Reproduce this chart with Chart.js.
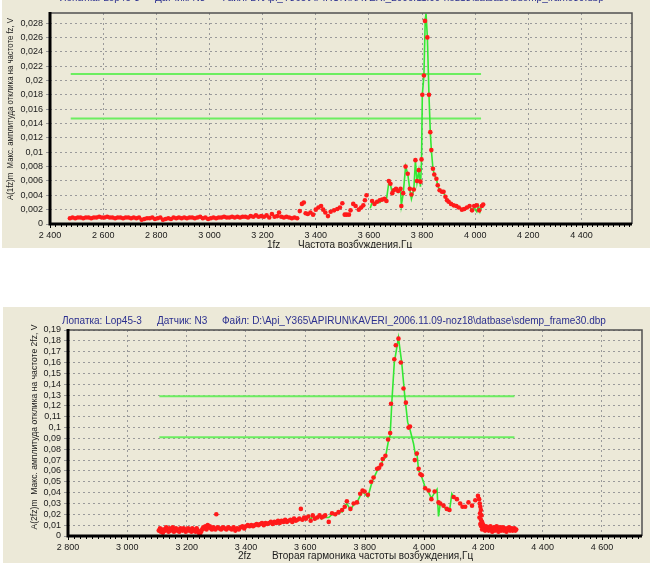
<!DOCTYPE html>
<html>
<head>
<meta charset="utf-8">
<script src="https://cdn.jsdelivr.net/npm/chart.js@4.4.0/dist/chart.umd.min.js"></script>
<style>
  body { margin: 0; background: #fff; width: 650px; height: 563px; position: relative; overflow: hidden; }
  .panel { position: absolute; background: #ECE9D8; }
  #p1 { left: 2px; top: 0; width: 648px; height: 248px; }
  #p2 { left: 3px; top: 307px; width: 647px; height: 256px; }
  canvas { position: absolute; left: 0; top: 0; }
</style>
</head>
<body>
<div class="panel" id="p1"><canvas id="c1" width="648" height="248"></canvas></div>
<div class="panel" id="p2"><canvas id="c2" width="647" height="256"></canvas></div>
<script>
/* ---- 1fz : measured points [Hz, V] ---- */
var red1 = [
  [2475,.0008],[2485,.0009],[2495,.0008],[2505,.0009],[2515,.0009],[2525,.0008],[2535,.0009],[2545,.0009],[2555,.0008],[2565,.0009],
  [2575,.0009],[2585,.0010],[2595,.0009],[2605,.0009],[2615,.0010],[2625,.0009],[2635,.0009],[2645,.0008],[2655,.0009],[2665,.0009],
  [2675,.0008],[2685,.0009],[2695,.0009],[2705,.0008],[2715,.0009],[2725,.0008],[2735,.0009],[2745,.0006],[2755,.0007],[2765,.0008],
  [2775,.0008],[2785,.0009],[2795,.0007],[2805,.0008],[2815,.0009],[2825,.0006],[2835,.0007],[2845,.0008],[2855,.0007],[2865,.0009],
  [2875,.0008],[2885,.0009],[2895,.0008],[2905,.0009],[2915,.0008],[2925,.0009],[2935,.0009],[2945,.0008],[2955,.0009],[2965,.0010],
  [2975,.0008],[2985,.0009],[2995,.0007],[3005,.0008],[3015,.0009],[3025,.0008],[3035,.0009],[3045,.0009],[3055,.0010],[3065,.0009],
  [3075,.0009],[3085,.0010],[3095,.0009],[3105,.0010],[3115,.0009],[3125,.0010],[3135,.0010],[3145,.0009],[3155,.0011],[3165,.0010],
  [3175,.0012],[3185,.0010],[3195,.0011],[3205,.0010],[3215,.0012],[3225,.0009],[3235,.0014],[3245,.0010],[3255,.0011],[3262,.0016],
  [3270,.0010],[3280,.0009],[3290,.0010],[3300,.0009],[3310,.0008],[3320,.0009],[3330,.0008],
  [3340,.0018],[3348,.0028],[3355,.0030],[3362,.0015],[3370,.0014],[3380,.0016],[3390,.0013],[3400,.0020],[3410,.0023],[3420,.0025],
  [3428,.0020],[3436,.0016],[3446,.0011],[3456,.0017],[3469,.0019],[3481,.0021],[3491,.0023],[3500,.0029],[3509,.0013],[3516,.0013],
  [3525,.0013],[3531,.0019],[3541,.0028],[3550,.0025],[3562,.0020],[3571,.0023],[3579,.0026],[3585,.0033],[3591,.0040],[3612,.0032],
  [3621,.0028],[3631,.0031],[3641,.0033],[3650,.0034],[3659,.0035],[3666,.0032],[3675,.0060],[3681,.0056],[3688,.0043],[3694,.0047],
  [3702,.0049],[3710,.0046],[3719,.0049],[3722,.0025],[3729,.0043],[3738,.0080],[3746,.0070],[3754,.0049],[3760,.0041],[3769,.0048],
  [3775,.0089],[3781,.0060],[3788,.0075],[3794,.0059],[3798,.0090],[3801,.0180],[3807,.0207],[3811,.0283],[3820,.0260],[3826,.0180],
  [3831,.0128],[3835,.0103],[3841,.0077],[3846,.0069],[3854,.0063],[3859,.0054],[3866,.0047],[3875,.0045],[3881,.0045],[3888,.0038],
  [3894,.0033],[3900,.0031],[3909,.0028],[3919,.0026],[3929,.0025],[3938,.0023],[3950,.0020],[3959,.0021],[3969,.0023],[3979,.0025],
  [3988,.0019],[3996,.0025],[4006,.0026],[4015,.0019],[4025,.0025],[4030,.0027]
];
var green1 = [
  [3605,.0022],[3612,.0030],[3621,.0027],[3631,.0031],[3641,.0030],[3650,.0034],[3659,.0033],[3666,.0034],[3675,.0058],[3681,.0055],
  [3688,.0043],[3694,.0047],[3702,.0049],[3710,.0044],[3719,.0048],[3722,.0026],[3729,.0042],[3738,.0080],[3746,.0070],[3754,.0048],
  [3760,.0035],[3769,.0048],[3775,.0088],[3781,.0058],[3788,.0074],[3794,.0052],[3798,.0088],[3801,.0180],[3807,.0207],[3812,.0285],
  [3815,.0293],[3820,.0260],[3826,.0180],[3831,.0128],[3835,.0103],[3841,.0077],[3846,.0069],[3854,.0063],[3859,.0054],[3866,.0047],
  [3875,.0045],[3881,.0044],[3888,.0038],[3894,.0033],[3900,.0030],[3909,.0028],[3919,.0025],[3929,.0024],[3938,.0023],[3950,.0020],
  [3959,.0021],[3969,.0022],[3979,.0024],[3988,.0019],[3996,.0022],[4006,.0017],[4012,.0025],[4018,.0017],[4025,.0025]
];
var levels1 = [0.0209, 0.0147];
var levelSpan1 = [2478, 4022];
var xTicks1 = [2400, 2600, 2800, 3000, 3200, 3400, 3600, 3800, 4000, 4200, 4400];

/* ---- 2fz : measured points [Hz, V] ---- */
var red2 = [
  [3106,.005],[3110,.007],[3113,.004],[3117,.006],[3120,.003],[3124,.006],[3128,.005],[3131,.008],[3135,.006],[3139,.004],
  [3142,.007],[3146,.005],[3150,.006],[3153,.008],[3157,.004],[3161,.006],[3164,.007],[3168,.005],[3172,.006],[3175,.004],
  [3179,.007],[3183,.006],[3186,.005],[3190,.007],[3194,.006],[3197,.004],[3201,.006],[3205,.007],[3208,.005],[3212,.006],
  [3216,.004],[3219,.007],[3223,.005],[3227,.006],[3230,.004],[3234,.007],[3238,.005],[3241,.003],[3245,.001],[3249,.004],
  [3252,.006],[3256,.008],[3260,.007],[3263,.009],[3267,.006],[3271,.010],[3274,.008],[3278,.009],[3282,.007],[3285,.006],
  [3289,.008],[3293,.007],[3297,.006],[3300,.020],[3304,.008],[3310,.007],[3316,.006],[3322,.008],[3328,.007],[3334,.006],
  [3340,.008],[3346,.007],[3352,.006],[3358,.008],[3364,.005],[3370,.007],[3376,.006],[3382,.008],[3388,.009],[3394,.007],
  [3400,.009],[3406,.010],[3412,.009],[3418,.010],[3424,.009],[3430,.010],[3436,.011],[3442,.010],[3448,.011],[3454,.012],
  [3460,.010],[3466,.012],[3472,.011],[3478,.012],[3484,.013],[3490,.011],[3496,.013],[3502,.012],[3508,.014],[3514,.012],
  [3520,.014],[3526,.013],[3532,.015],[3538,.013],[3544,.014],[3550,.015],[3556,.013],[3562,.016],[3568,.014],[3574,.015],
  [3580,.016],[3585,.025],[3590,.015],[3596,.017],[3602,.016],[3610,.018],[3618,.014],[3625,.019],[3632,.016],[3640,.017],
  [3648,.019],[3655,.017],[3662,.018],[3667,.019],[3679,.013],[3690,.021],[3701,.020],[3712,.022],[3724,.024],[3733,.027],
  [3740,.032],[3752,.025],[3763,.030],[3774,.031],[3785,.039],[3793,.042],[3800,.041],[3811,.038],[3822,.050],[3830,.054],
  [3842,.062],[3849,.063],[3856,.066],[3861,.071],[3870,.074],[3879,.089],[3886,.095],[3889,.122],[3900,.163],[3905,.176],
  [3914,.182],[3922,.160],[3931,.136],[3939,.123],[3948,.100],[3953,.101],[3969,.070],[3976,.076],[3982,.062],[3988,.057],
  [3993,.056],[4004,.044],[4016,.042],[4025,.034],[4036,.041],[4049,.031],[4055,.030],[4066,.028],[4077,.025],[4086,.024],
  [4100,.036],[4111,.034],[4122,.030],[4130,.027],[4139,.027],[4150,.031],[4162,.028],[4173,.033],[4182,.037],[4186,.034],
  [4188,.030],[4190,.027],[4192,.024],[4189,.021],[4194,.019],[4187,.017],[4192,.015],[4195,.013],[4190,.011],[4197,.012],
  [4193,.009],[4198,.008],[4196,.006],[4200,.010],[4203,.007],[4206,.005],[4209,.009],[4212,.006],[4215,.008],[4218,.005],
  [4221,.007],[4224,.009],[4227,.006],[4230,.004],[4233,.007],[4236,.008],[4239,.005],[4242,.006],[4245,.009],[4248,.006],
  [4251,.004],[4254,.007],[4257,.008],[4260,.005],[4263,.006],[4266,.008],[4269,.005],[4272,.007],[4275,.006],[4278,.004],
  [4281,.007],[4284,.006],[4287,.008],[4290,.005],[4293,.006],[4296,.007],[4299,.005],[4302,.006],[4305,.007],[4308,.005],[4311,.006]
];
var green2 = [
  [3600,.016],[3610,.019],[3618,.015],[3625,.019],[3632,.015],[3640,.018],[3648,.019],[3655,.016],[3662,.019],[3670,.017],
  [3679,.017],[3690,.020],[3701,.019],[3712,.023],[3724,.022],[3733,.028],[3740,.030],[3752,.024],[3763,.029],[3774,.031],
  [3785,.037],[3793,.041],[3800,.039],[3811,.036],[3822,.047],[3830,.053],[3842,.060],[3849,.064],[3856,.065],[3861,.070],
  [3870,.072],[3879,.086],[3886,.093],[3892,.125],[3900,.160],[3914,.183],[3925,.160],[3935,.130],[3945,.105],[3953,.098],
  [3965,.085],[3971,.075],[3976,.077],[3982,.060],[3988,.058],[3993,.054],[4004,.045],[4016,.040],[4025,.035],[4036,.040],
  [4044,.043],[4049,.018],[4055,.030],[4066,.027],[4077,.024],[4086,.023],[4094,.039],[4100,.036]
];
var levels2 = [0.129, 0.091];
var levelSpan2 = [3108, 4305];
var xTicks2 = [2800, 3000, 3200, 3400, 3600, 3800, 4000, 4200, 4400, 4600];

/* ---- texts ---- */
var headParts = ['Лопатка: Lop45-3', 'Датчик: N3', 'Файл: D:\\Api_Y365\\APIRUN\\KAVERI_2006.11.09-noz18\\datbase\\sdemp_frame30.dbp'];
var yTitle1 = 'A(1fz)m  Макс. амплитуда отклика на частоте fz, V';
var yTitle2 = 'A(2fz)m  Макс. амплитуда отклика на частоте 2fz, V';
var xTitle1 = ['1fz', 'Частота возбуждения,Гц'];
var xTitle2 = ['2fz', 'Вторая гармоника частоты возбуждения,Гц'];

Chart.defaults.font.family = "'Liberation Sans', Arial, sans-serif";
Chart.defaults.color = '#1a1a1a';

function pts(arr) { return arr.map(function(p) { return {x: p[0], y: p[1]}; }); }

function fmtX(v) { return String(v).replace(/\B(?=(\d{3})+(?!\d))/g, ' '); }
function fmtY(v) { return String(+v.toFixed(4)).replace('.', ','); }

function drawText(ctx, t) {
  ctx.save();
  ctx.font = t.font;
  ctx.fillStyle = t.color || '#1a1a1a';
  ctx.textBaseline = 'middle';
  ctx.translate(t.x, t.y);
  if (t.rot) { ctx.rotate(-Math.PI / 2); ctx.textAlign = 'center'; } else { ctx.textAlign = 'left'; }
  if (t.w) ctx.fillText(t.text, 0, 0, t.w); else ctx.fillText(t.text, 0, 0);
  ctx.restore();
}

var decor = {
  id: 'decor',
  afterDraw: function(chart, args, o) {
    var ctx = chart.ctx, a = chart.chartArea, x = chart.scales.x;
    ctx.save();
    // frame
    ctx.strokeStyle = '#505050';
    ctx.lineWidth = 1.5;
    ctx.beginPath();
    ctx.moveTo(a.left, a.top); ctx.lineTo(a.right, a.top); ctx.lineTo(a.right, a.bottom);
    ctx.stroke();
    // axes
    ctx.strokeStyle = '#000';
    ctx.lineWidth = 3;
    ctx.beginPath();
    ctx.moveTo(a.left, a.top - 1); ctx.lineTo(a.left, a.bottom); ctx.lineTo(a.right, a.bottom);
    ctx.stroke();
    ctx.lineWidth = 1;
    for (var v = x.min; v <= x.max; v += 20) {
      var px = Math.round(x.getPixelForValue(v)) + 0.5;
      ctx.beginPath();
      ctx.moveTo(px, a.bottom);
      ctx.lineTo(px, a.bottom + (v % 200 === 0 ? 4 : 3));
      ctx.stroke();
    }
    ctx.restore();
    o.texts.forEach(function(t) { drawText(ctx, t); });
  }
};

function makeChart(id, cfg) {
  var datasets = [
    { data: pts(cfg.red), backgroundColor: '#FF1A1A', borderWidth: 0, pointRadius: 2.3, pointHoverRadius: 2.3 },
    { data: pts(cfg.green), showLine: true, borderColor: '#33E833', borderWidth: 1.6, pointRadius: 0 }
  ];
  cfg.levels.forEach(function(l) {
    datasets.push({ data: pts([[cfg.span[0], l], [cfg.span[1], l]]), showLine: true,
      borderColor: '#6CEE60', borderWidth: 2, pointRadius: 0 });
  });
  return new Chart(document.getElementById(id), {
    type: 'scatter',
    data: { datasets: datasets },
    options: {
      responsive: false,
      animation: false,
      events: [],
      layout: { padding: cfg.pad },
      plugins: { legend: { display: false }, tooltip: { enabled: false }, decor: { texts: cfg.texts } },
      scales: {
        x: {
          type: 'linear', min: cfg.xMin, max: cfg.xMax,
          afterFit: function(s) { s.height = cfg.xH; },
          afterBuildTicks: function(s) { s.ticks = cfg.xTicks.map(function(v) { return {value: v}; }); },
          ticks: { autoSkip: false, maxRotation: 0,
                   padding: 2, font: { size: 9 }, color: '#1a1a1a', callback: fmtX },
          grid: { color: '#9a9a9a', lineWidth: 1, tickLength: 4, tickColor: 'rgba(0,0,0,0)' },
          border: { display: false, dash: [2, 3] }
        },
        y: {
          min: 0, max: cfg.yMax,
          afterFit: function(s) { s.width = cfg.yW; },
          ticks: { stepSize: cfg.yStep, includeBounds: false, autoSkip: false,
                   padding: 3, font: { size: 9 }, color: '#1a1a1a', callback: fmtY },
          grid: { color: '#9a9a9a', lineWidth: 1, tickLength: 4, tickColor: '#9a9a9a' },
          border: { display: false, dash: [2, 3] }
        }
      }
    },
    plugins: [decor]
  });
}

var F10 = "10px 'Liberation Sans', Arial, sans-serif";
var F9 = "9px 'Liberation Sans', Arial, sans-serif";

makeChart('c1', {
  red: red1, green: green1, levels: levels1, span: levelSpan1, xTicks: xTicks1,
  xMin: 2400, xMax: 4590, yMax: 0.0294, yStep: 0.002,
  pad: { left: 0, top: 13, right: 18, bottom: 0 }, yW: 48, xH: 24,
  texts: [
    { text: headParts[0], x: 58, y: -2, font: F10, color: '#2B2F8F' },
    { text: headParts[1], x: 153, y: -2, font: F10, color: '#2B2F8F' },
    { text: headParts[2], x: 218, y: -2, font: F10, color: '#2B2F8F', w: 405 },
    { text: yTitle1, x: 9, y: 109, font: F9, rot: true, w: 182 },
    { text: xTitle1[0], x: 265, y: 245, font: F10 },
    { text: xTitle1[1], x: 296, y: 245, font: F10, w: 118 }
  ]
});

makeChart('c2', {
  red: red2, green: green2, levels: levels2, span: levelSpan2, xTicks: xTicks2,
  xMin: 2800, xMax: 4735, yMax: 0.19, yStep: 0.01,
  pad: { left: 0, top: 23, right: 8, bottom: 0 }, yW: 65, xH: 27,
  texts: [
    { text: headParts[0], x: 59, y: 14, font: F10, color: '#2B2F8F' },
    { text: headParts[1], x: 154, y: 14, font: F10, color: '#2B2F8F' },
    { text: headParts[2], x: 219, y: 14, font: F10, color: '#2B2F8F', w: 416 },
    { text: yTitle2, x: 32, y: 120, font: F9, rot: true, w: 205 },
    { text: xTitle2[0], x: 235, y: 249, font: F10 },
    { text: xTitle2[1], x: 269, y: 249, font: F10, w: 202 }
  ]
});
</script>
</body>
</html>
